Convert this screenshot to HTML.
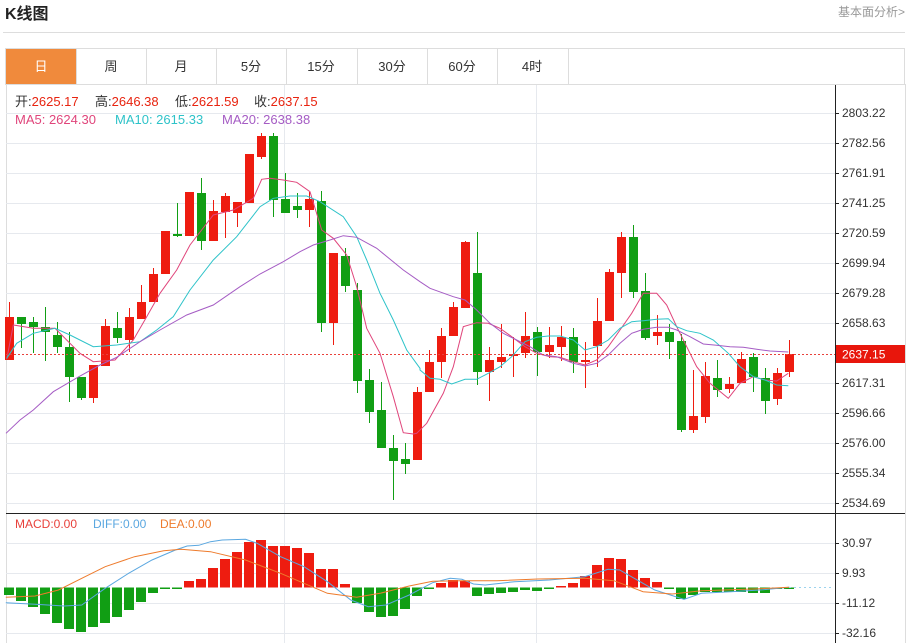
<!DOCTYPE html>
<html><head><meta charset="utf-8"><style>
html,body{margin:0;padding:0;background:#fff;width:912px;height:643px;overflow:hidden}
svg{display:block}
text{font-family:"Liberation Sans","Noto Sans CJK SC",sans-serif}
</style></head><body>
<svg id="s" width="912" height="643" xmlns="http://www.w3.org/2000/svg">
<text x="5" y="19" font-size="16" font-weight="bold" fill="#222">K线图</text>
<text x="905" y="16" font-size="12" fill="#999" text-anchor="end">基本面分析&gt;</text>
<line x1="3" y1="32.5" x2="905" y2="32.5" stroke="#ddd"/>
<rect x="5.5" y="48.5" width="899" height="36" fill="#fff" stroke="#ddd"/>
<rect x="6" y="49" width="70" height="35" fill="#f08a3c"/>
<g stroke="#ddd"><line x1="76.5" y1="49" x2="76.5" y2="84"/><line x1="146.5" y1="49" x2="146.5" y2="84"/><line x1="216.5" y1="49" x2="216.5" y2="84"/><line x1="286.5" y1="49" x2="286.5" y2="84"/><line x1="357.5" y1="49" x2="357.5" y2="84"/><line x1="427.5" y1="49" x2="427.5" y2="84"/><line x1="497.5" y1="49" x2="497.5" y2="84"/><line x1="568.5" y1="49" x2="568.5" y2="84"/></g>
<g font-size="13" text-anchor="middle" fill="#333"><text x="41" y="71" fill="#fff">日</text><text x="111" y="71">周</text><text x="181" y="71">月</text><text x="251" y="71">5分</text><text x="321" y="71">15分</text><text x="392" y="71">30分</text><text x="462" y="71">60分</text><text x="532" y="71">4时</text></g>
<line x1="6.5" y1="84" x2="6.5" y2="643" stroke="#ddd"/>
<line x1="905.5" y1="84" x2="905.5" y2="643" stroke="#ddd"/>
<g id="grid" stroke="#e6e9ee"></g>
<g id="cd"></g>
<g id="ma" fill="none" stroke-width="1"></g>
<line x1="6" y1="354.5" x2="835" y2="354.5" stroke="#e8413b" stroke-dasharray="2,2"/>
<line x1="6" y1="513.5" x2="905" y2="513.5" stroke="#222"/>
<line x1="835.5" y1="85" x2="835.5" y2="643" stroke="#222"/>
<g id="ax" font-size="12" fill="#333"></g>
<rect x="836" y="345" width="69" height="18" fill="#e8160c"/>
<text x="842" y="358.5" font-size="12" fill="#fff">2637.15</text>
<g font-size="13" fill="#333">
<text x="15" y="106">开:<tspan fill="#e8230f">2625.17</tspan></text>
<text x="95" y="106">高:<tspan fill="#e8230f">2646.38</tspan></text>
<text x="175" y="106">低:<tspan fill="#e8230f">2621.59</tspan></text>
<text x="254" y="106">收:<tspan fill="#e8230f">2637.15</tspan></text>
<text x="15" y="124" fill="#e0457b">MA5: 2624.30</text>
<text x="115" y="124" fill="#2ec3c9">MA10: 2615.33</text>
<text x="222" y="124" fill="#a55cc4">MA20: 2638.38</text>
</g>
<g font-size="12">
<text x="15" y="528" fill="#e8413b">MACD:0.00</text>
<text x="93" y="528" fill="#5aa7e0">DIFF:0.00</text>
<text x="160" y="528" fill="#ee7b2c">DEA:0.00</text>
</g>
<g id="mc"></g>
</svg>
<script>
var NS="http://www.w3.org/2000/svg";
function el(p,t,a){var e=document.createElementNS(NS,t);for(var k in a)e.setAttribute(k,a[k]);document.getElementById(p).appendChild(e);return e;}
var ys=[113,143,173,203,233,263,293,323,383,413,443,473,503],lb=["2803.22","2782.56","2761.91","2741.25","2720.59","2699.94","2679.28","2658.63","2617.31","2596.66","2576.00","2555.34","2534.69"];
ys.forEach(function(y,i){el("grid","line",{x1:6,x2:835,y1:y+.5,y2:y+.5});el("ax","line",{x1:835,x2:839,y1:y+.5,y2:y+.5,stroke:"#222"});var t=el("ax","text",{x:842,y:y+4});t.textContent=lb[i];});
[543,573,603,633].forEach(function(y,i){el("grid","line",{x1:6,x2:835,y1:y+.5,y2:y+.5});el("ax","line",{x1:835,x2:839,y1:y+.5,y2:y+.5,stroke:"#222"});var t=el("ax","text",{x:842,y:y+4});t.textContent=["30.97","9.93","-11.12","-32.16"][i];});
[284,536].forEach(function(x){el("grid","line",{x1:x+.5,x2:x+.5,y1:85,y2:643});});
var R="#ee1c10",G="#119e14";
var C=[[317,360,302,360,R],[317,324,317,348,G],[322,327,317,353,G],[327,332,307,361,G],[335,347,322,353,G],[347,377,332,402,G],[377,398,377,400,G],[365,398,365,403,R],[326,366,319,366,R],[328,338,312,343,G],[317,340,308,352,R],[302,319,285,319,R],[274,302,268,302,R],[231,274,231,274,R],[234,236,203,237,G],[192,236,192,236,R],[193,241,178,250,G],[211,241,200,241,R],[196,212,193,238,R],[202,213,202,227,R],[154,203,154,203,R],[136,157,133,159,R],[136,200,133,217,G],[199,213,173,213,G],[206,210,193,218,G],[199,210,192,227,R],[201,323,191,332,G],[253,323,253,345,R],[256,286,248,292,G],[290,381,283,393,G],[380,412,369,423,G],[410,448,382,448,G],[448,461,435,500,G],[459,464,443,474,G],[392,460,387,460,R],[362,392,350,392,R],[336,362,328,378,R],[307,336,302,336,R],[242,308,241,308,R],[273,372,232,385,G],[360,372,347,401,R],[357,362,324,368,R],[354,356,337,377,R],[336,353,312,358,R],[332,352,327,376,G],[345,352,327,358,R],[337,347,326,361,R],[337,362,328,373,G],[360,362,342,388,R],[321,346,298,367,R],[272,321,269,321,R],[237,273,232,298,R],[237,292,225,298,G],[291,338,273,340,G],[332,336,315,345,R],[332,342,324,359,G],[341,430,334,432,G],[416,430,370,433,R],[376,417,362,423,R],[378,390,360,397,G],[384,389,377,393,R],[359,383,352,383,R],[357,377,353,392,G],[378,401,368,414,G],[373,399,368,405,R],[354,372,340,377,R]];
C.forEach(function(c,i){var x=9+12*i;el("cd","line",{x1:x+.5,x2:x+.5,y1:c[2],y2:c[3],stroke:c[4]});el("cd","rect",{x:x-4,y:c[0],width:9,height:Math.max(2,c[1]-c[0]),fill:c[4]});});
function pl(pts,col,ox,sx,sy,oy){var s=pts.map(function(p){return (ox+p[0]/sx).toFixed(1)+","+(oy+p[1]/sy).toFixed(1)}).join(" ");return s;}
function poly(parts,col){var s=parts.join(" ");el("ma","polyline",{points:s,stroke:col});}
poly([pl([[20,718],[40,615],[100,625],[165,625],[240,700],[280,725],[345,720],[400,660],[440,590],[480,520],[530,450],[570,375],[640,285],[700,270],[760,235],[785,178],[810,175],[850,180],[890,187],[930,215],[965,330],[1000,355],[1040,405],[1070,500],[1100,625],[1140,700],[1180,830],[1210,938],[1240,942]],0,0,3,3,120),pl([[20,940],[50,910],[100,820],[130,740],[160,620],[200,608],[235,610],[270,625],[305,650],[345,680],[380,700],[420,710],[450,712],[490,725],[525,735],[560,720],[595,680],[630,630],[665,580],[700,520],[740,520],[770,555],[800,620],[830,680],[860,740],[900,790],[955,835],[990,790],[1030,770],[1065,780],[1100,783],[1135,760]],0,410,3,3,120)],"#e0457b");
poly([pl([[20,715],[50,670],[100,640],[165,625],[210,645],[280,680],[350,675],[420,665],[470,630],[520,590],[570,510],[640,420],[710,350],[780,260],[820,235],[870,228],[920,228],[960,245],[1030,290],[1070,350],[1100,420],[1140,520],[1180,600],[1220,690],[1260,745]],0,0,3,3,120),pl([[30,750],[60,775],[90,778],[125,792],[165,778],[200,778],[235,760],[270,740],[305,710],[345,665],[380,652],[415,648],[450,648],[490,660],[525,690],[560,680],[595,660],[630,625],[665,605],[700,602],[740,598],[775,596],[800,620],[830,632],[870,640],[910,660],[955,700],[990,740],[1030,770],[1065,780],[1100,795],[1135,797]],0,410,3,3,120)],"#2ec3c9");
poly([pl([[18,940],[60,900],[100,870],[160,815],[240,768],[300,735],[350,712],[420,665],[480,630],[560,585],[640,555],[720,500],[780,462],[850,425],[900,395],[940,375],[990,360],[1030,347],[1070,352],[1130,385],[1210,450],[1260,485]],0,0,3,3,120),pl([[60,505],[130,530],[165,540],[200,570],[240,610],[280,640],[320,660],[360,680],[400,705],[440,710],[490,730],[525,738],[560,730],[595,705],[630,670],[665,640],[700,628],[740,622],[775,622],[800,630],[840,650],[880,672],[920,676],[960,680],[1000,682],[1040,688],[1080,693],[1135,696]],0,410,3,3,120)],"#a55cc4");
var M=[595,601,607,614,623,629,632,627,623,617,610,602,593,589,588.5,581,579,568,559,552,542,540,546,546,548,553,569,569,584,603,612,617,616,609,596,588.5,583,580,581,596,594,593,592,590,591,588.5,586,583,576,565,558,559,570,578,582,588.5,599,595,592,592,592,592,593,593,588.5,588.5];
var Z=587.5;
M.forEach(function(v,i){var x=9+12*i-5;var up=v<Z;var h=Math.max(1.5,Math.abs(v-Z));el("mc","rect",{x:x,y:up?Z-h:Z,width:10,height:h,fill:up?R:G});});
var D=[[10,278],[60,283],[110,288],[140,285],[180,235],[220,190],[260,150],[300,120],[320,108],[340,106],[360,95],[380,90],[420,88],[440,100],[480,140],[520,170],[560,215],[600,270],[630,290],[660,285],[700,255],[740,218],[770,205],[790,208],[810,222],[830,225],[880,215],[940,210],[1000,200],[1040,178],[1060,180],[1080,200],[1120,240],[1170,268],[1200,250],[1250,245],[1300,240],[1350,232]];
var E=[[10,262],[60,258],[100,240],[140,205],[180,170],[230,140],[280,122],[310,118],[360,125],[420,150],[480,190],[520,220],[560,250],[610,262],[650,250],[700,228],[740,214],[790,212],[850,212],[920,207],[1000,205],[1050,212],[1100,245],[1150,252],[1200,242],[1300,236],[1350,232]];
el("mc","polyline",{points:pl(D,0,0,1.7105,3,510),fill:"none",stroke:"#5aa7e0"});
el("mc","polyline",{points:pl(E,0,0,1.7105,3,510),fill:"none",stroke:"#ee7b2c"});
el("mc","line",{x1:789,x2:832,y1:587.5,y2:587.5,stroke:"#9cd3ee","stroke-dasharray":"2,3"});
</script>
</body></html>
